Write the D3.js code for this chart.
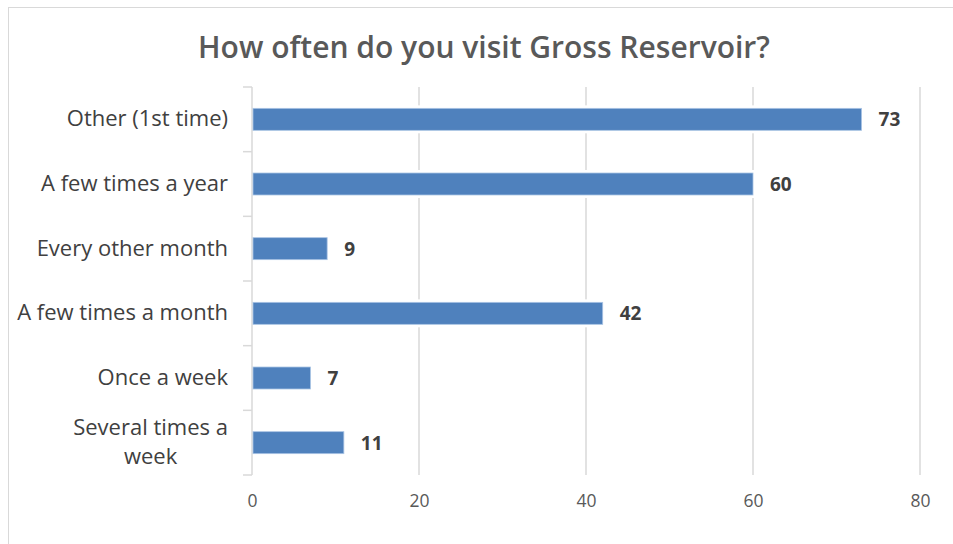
<!DOCTYPE html>
<html>
<head>
  <meta charset="utf-8">
  <title>Gross Reservoir visits</title>
  <style>
    body { margin: 0; background: #fff; }
    .axis path { stroke: #d9d9d9; }
    .axis line { stroke: #d9d9d9; }
    .xaxis text { font-family: "Open Sans", sans-serif; font-size: 17.5px; fill: #595959; }
    .yaxis text { font-family: "Open Sans", sans-serif; font-size: 22px; fill: #404040; }
    .grid line { stroke: #d9d9d9; stroke-width: 1.5; }
    .valueText { font-family: "Open Sans", sans-serif; font-size: 19px; font-weight: bold; fill: #404040; }
  </style>
</head>
<body>
<script src="https://d3js.org/d3.v7.min.js"></script>
<script>
  var width = 953,
      height = 544;

  var categories = ['Other (1st time)', 'A few times a year', 'Every other month',
                    'A few times a month', 'Once a week', 'Several times a week'];
  var labelLines = [['Other (1st time)'], ['A few times a year'], ['Every other month'],
                    ['A few times a month'], ['Once a week'], ['Several times a', 'week']];
  var values = [73, 60, 9, 42, 7, 11];
  var xTicks = [0, 20, 40, 60, 80];

  var margin = {left: 252, right: 33, top: 87, bottom: 69};

  var svg = d3.select('body')
    .append('svg')
    .attr('width', width)
    .attr('height', height);

  // chart frame (only top and left edges visible in the crop)
  svg.append('rect')
    .attr('x', 8.5)
    .attr('y', 7.5)
    .attr('width', 960)
    .attr('height', 560)
    .attr('fill', 'none')
    .attr('stroke', '#d9d9d9');

  svg.append('text')
    .attr('x', 484)
    .attr('y', 58)
    .attr('text-anchor', 'middle')
    .attr('font-family', '"Open Sans", sans-serif')
    .attr('font-size', 30)
    .attr('font-weight', 600)
    .attr('fill', '#595959')
    .text('How often do you visit Gross Reservoir?');

  var xScale = d3.scaleLinear()
    .domain([0, 80])
    .range([margin.left, width - margin.right]);

  var yScale = d3.scaleBand()
    .domain(categories)
    .range([margin.top, height - margin.bottom])
    .paddingInner(0.66)
    .paddingOuter(0.33);

  var bandStep = yScale.step();

  // grid lines
  svg.append('g')
    .attr('class', 'grid')
    .selectAll('line')
    .data(xTicks.slice(1))
    .enter()
    .append('line')
    .attr('x1', function(d) { return xScale(d); })
    .attr('x2', function(d) { return xScale(d); })
    .attr('y1', margin.top)
    .attr('y2', height - margin.bottom);

  // x axis labels
  var xAxis = d3.axisBottom(xScale)
    .tickValues(xTicks)
    .tickSize(0)
    .tickPadding(20);

  svg.append('g')
    .attr('class', 'axis xaxis')
    .attr('transform', 'translate(0,' + (height - margin.bottom) + ')')
    .call(xAxis)
    .call(function(g) { g.select('.domain').remove(); });

  // y axis line with ticks between categories
  var yAxisG = svg.append('g').attr('class', 'axis');
  yAxisG.append('line')
    .attr('x1', margin.left).attr('x2', margin.left)
    .attr('y1', margin.top).attr('y2', height - margin.bottom)
    .attr('stroke-width', 1.5);
  yAxisG.selectAll('.tickmark')
    .data(d3.range(categories.length + 1))
    .enter()
    .append('line')
    .attr('x1', margin.left - 9)
    .attr('x2', margin.left)
    .attr('y1', function(i) { return margin.top + i * bandStep; })
    .attr('y2', function(i) { return margin.top + i * bandStep; })
    .attr('stroke-width', 1.5);

  // category labels, multi-line ones centred as a block and right aligned
  var labelRight = margin.left - 24;
  var labels = svg.append('g').attr('class', 'yaxis');
  labels.selectAll('text')
    .data(categories)
    .enter()
    .append('text')
    .each(function(d, i) {
      var t = d3.select(this);
      var lines = labelLines[i];
      var cy = yScale(d) + yScale.bandwidth() / 2;
      var spans = lines.map(function(l, j) {
        return t.append('tspan')
          .attr('y', cy + 7 + (j - (lines.length - 1) / 2) * 29)
          .text(l);
      });
      var widths = spans.map(function(s) { return s.node().getComputedTextLength(); });
      var maxW = d3.max(widths);
      spans.forEach(function(s) {
        s.attr('x', labelRight - maxW / 2).attr('text-anchor', 'middle');
      });
    });

  // bars (white halo first, so grid lines break around them)
  svg.selectAll('.halo')
    .data(values)
    .enter()
    .append('rect')
    .attr('class', 'halo')
    .attr('x', xScale(0) + 1)
    .attr('y', function(d, i) { return yScale(categories[i]) - 3; })
    .attr('width', function(d) { return xScale(d) - xScale(0) + 2; })
    .attr('height', yScale.bandwidth() + 6)
    .attr('fill', '#fff');

  svg.selectAll('.bar')
    .data(values)
    .enter()
    .append('rect')
    .attr('class', 'bar')
    .attr('x', xScale(0) + 1)
    .attr('y', function(d, i) { return yScale(categories[i]); })
    .attr('width', function(d) { return xScale(d) - xScale(0) - 1; })
    .attr('height', yScale.bandwidth())
    .attr('fill', '#4f81bd')
    .attr('stroke', '#a9c4e4')
    .attr('stroke-width', 0.8);

  svg.selectAll('.valueText')
    .data(values)
    .enter()
    .append('text')
    .attr('class', 'valueText')
    .attr('x', function(d) { return xScale(d) + 17; })
    .attr('y', function(d, i) { return yScale(categories[i]) + yScale.bandwidth() / 2 + 7; })
    .text(function(d) { return d; });
</script>
</body>
</html>
